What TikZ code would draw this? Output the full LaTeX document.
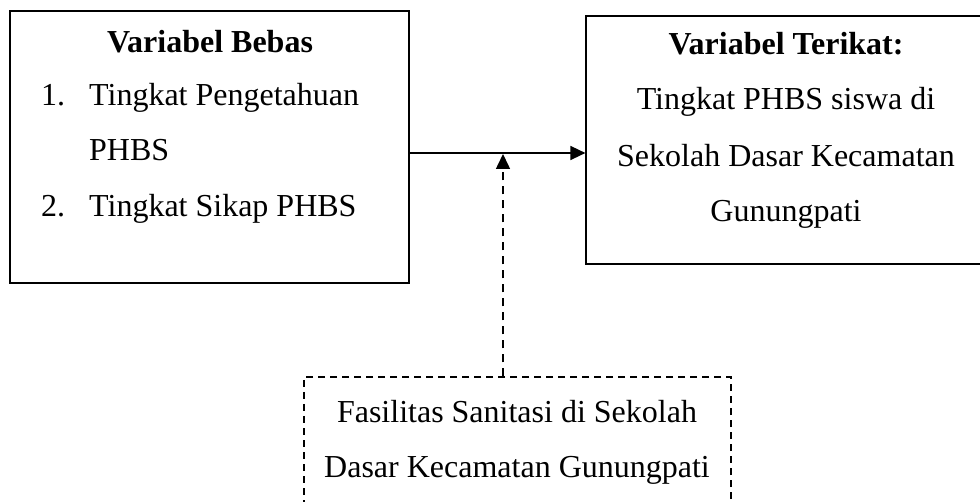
\documentclass[tikz,border=0pt]{standalone}
\usepackage{fontspec}
\setmainfont{Liberation Serif}
\usetikzlibrary{arrows.meta}
\tikzset{
  kotak/.style={draw,line width=1.2pt,inner sep=0pt},
  kotakputus/.style={draw,line width=1.2pt,dash pattern=on 7pt off 5pt,inner sep=0pt},
  teks/.style={inner sep=0pt,font=\fontsize{32}{38}\selectfont},
  panah/.style={line width=1.5pt,-{Triangle[length=15pt,width=14pt]}},
}
\begin{document}
\begin{tikzpicture}[x=1pt,y=1pt]
\clip (0,0) rectangle (980,501);
\node[kotak,minimum width=399pt,minimum height=272pt] (bebas) at (209.5,354) {};
\node[kotak,minimum width=400pt,minimum height=248pt] (terikat) at (786,361) {};
\node[kotakputus,minimum width=427pt,minimum height=163pt] (sanitasi) at (517.5,42.5) {};
\node[teks,anchor=base] (judulbebas) at (210,448) {\textbf{Variabel Bebas}};
\node[teks,anchor=base west] (no1) at (41,395) {1.};
\node[teks,anchor=base west] (bebas1) at (89,395) {Tingkat Pengetahuan};
\node[teks,anchor=base west] (bebas1b) at (89,340) {PHBS};
\node[teks,anchor=base west] (no2) at (41,284) {2.};
\node[teks,anchor=base west] (bebas2) at (89,284) {Tingkat Sikap PHBS};
\node[teks,anchor=base] (judulterikat) at (786,446) {\textbf{Variabel Terikat:}};
\node[teks,anchor=base] (terikat1) at (786,391) {Tingkat PHBS siswa di};
\node[teks,anchor=base] (terikat2) at (786,334) {Sekolah Dasar Kecamatan};
\node[teks,anchor=base] (terikat3) at (786,279) {Gunungpati};
\node[teks,anchor=base] (sanitasi1) at (517,79) {Fasilitas Sanitasi di Sekolah};
\node[teks,anchor=base] (sanitasi2) at (517,24) {Dasar Kecamatan Gunungpati};
\coordinate (tengah) at (503,348);
\draw[panah] (bebas.east |- tengah) -- (terikat.west |- tengah);
\draw[panah,dash pattern=on 8pt off 6pt] (sanitasi.north -| tengah) -- ([yshift=-1pt]tengah);
\end{tikzpicture}
\end{document}
